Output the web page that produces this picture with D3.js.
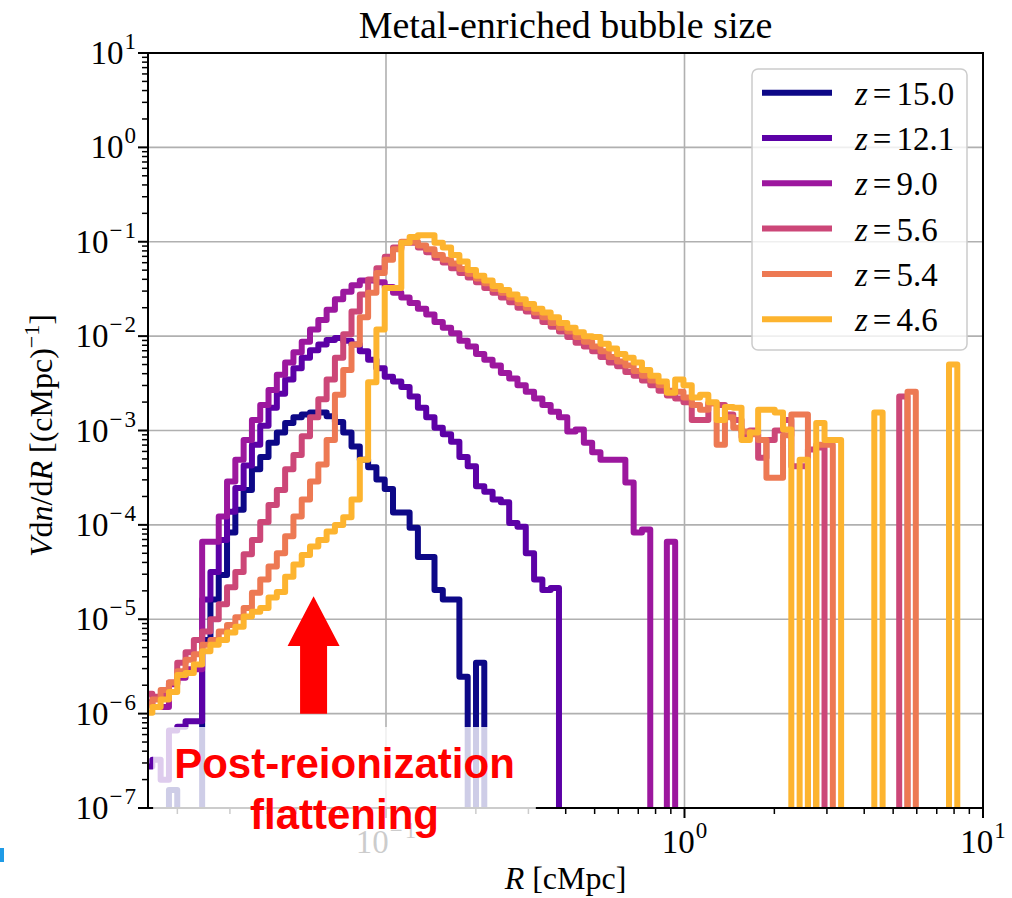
<!DOCTYPE html>
<html>
<head>
<meta charset="utf-8">
<title>Metal-enriched bubble size</title>
<script src="https://d3js.org/d3.v7.min.js"></script>
<style>
  body { margin: 0; background: #fff; }
</style>
</head>
<body>
<div id="chart"></div>
<script>
// histogram bins: log-spaced edges in R [cMpc]
const binStart = 0.01547;     // first bin edge
const binLogWidth = 0.0278;   // bin width (dex)
const binCount = 98;
const xMin = 0.015948, xMax = 10;
const yMin = 1e-7, yMax = 10;

const redshifts = ["15.0", "12.1", "9.0", "5.6", "5.4", "4.6"];
const colors = ["#0d0887", "#5c01a6", "#9c179e", "#cc4778", "#ed7953", "#fdb42f"];

// log10 of V dn/dR for each bin (null = empty bin, missing trailing bins are empty)
const logZ150 = [null,null,null,-6.81,null,null,null,-5.22,-4.79,-4.53,
  -4.08,-3.84,-3.63,-3.41,-3.28,-3.13,-3.02,-2.92,-2.86,-2.83,
  -2.81,-2.81,-2.85,-2.91,-3.02,-3.17,-3.31,-3.39,-3.52,-3.62,
  -3.87,-3.87,-4.03,-4.34,-4.34,-4.69,-4.79,-4.79,-5.61,null,
  -5.46];
const logZ121 = [-6.56,-6.49,-6.70,-6.18,-6.14,-6.08,-6.08,-4.79,-4.50,-4.16,
  -3.86,-3.61,-3.37,-3.15,-2.95,-2.76,-2.61,-2.46,-2.34,-2.23,
  -2.15,-2.09,-2.04,-2.02,-2.05,-2.09,-2.16,-2.25,-2.34,-2.43,
  -2.48,-2.54,-2.64,-2.76,-2.86,-2.97,-3.04,-3.12,-3.28,-3.38,
  -3.59,-3.65,-3.73,-3.76,-3.98,-4.02,-4.30,-4.58,-4.69,-4.67];
const logZ90 = [-5.88,-5.93,-5.93,-5.69,-5.62,-5.53,-5.53,-4.18,-4.18,-3.91,
  -3.54,-3.31,-3.10,-2.89,-2.73,-2.57,-2.41,-2.28,-2.17,-2.06,
  -1.93,-1.83,-1.72,-1.61,-1.53,-1.46,-1.41,-1.41,-1.43,-1.48,
  -1.54,-1.59,-1.65,-1.71,-1.77,-1.85,-1.91,-1.97,-2.05,-2.11,
  -2.19,-2.25,-2.31,-2.39,-2.45,-2.52,-2.59,-2.66,-2.73,-2.80,
  -2.86,-3.01,-2.99,-3.13,-3.23,-3.31,-3.31,-3.31,-3.55,-4.08,
  -4.05,null,null,-4.18];
const logZ56 = [-5.79,-5.82,-5.80,-5.67,-5.46,-5.35,-5.22,-5.13,-5.00,-4.84,
  -4.66,-4.50,-4.31,-4.16,-3.97,-3.79,-3.63,-3.41,-3.26,-3.06,
  -2.86,-2.67,-2.46,-2.23,-1.98,-1.74,-1.56,-1.40,-1.28,-1.16,
  -1.06,-1.01,-1.01,-1.06,-1.11,-1.17,-1.22,-1.28,-1.33,-1.38,
  -1.43,-1.49,-1.54,-1.59,-1.64,-1.70,-1.74,-1.79,-1.85,-1.90,
  -1.95,-2.01,-2.07,-2.11,-2.16,-2.22,-2.28,-2.32,-2.38,-2.42,
  -2.47,-2.52,-2.58,-2.63,-2.66,-2.70,-2.89,-2.89,-2.71,-2.73,
  -2.83,-2.89,-3.07,-3.00,-3.29,-3.10,-3.00,-2.89,-3.38,-3.38,
  -3.20,-3.18,null,null,null,null,null,null,null,null,
  null,-2.64];
const logZ54 = [-5.90,-5.85,-5.75,-5.67,-5.55,-5.43,-5.37,-5.27,-5.22,-5.13,
  -5.06,-4.98,-4.88,-4.72,-4.58,-4.44,-4.30,-4.12,-3.91,-3.73,
  -3.54,-3.36,-3.10,-2.62,-2.36,-2.09,-1.80,-1.54,-1.33,-1.19,
  -1.08,-1.00,-1.00,-1.04,-1.08,-1.14,-1.19,-1.23,-1.29,-1.34,
  -1.39,-1.44,-1.50,-1.54,-1.59,-1.65,-1.70,-1.75,-1.80,-1.86,
  -1.91,-1.95,-2.01,-2.06,-2.11,-2.16,-2.22,-2.27,-2.31,-2.37,
  -2.42,-2.47,-2.52,-2.58,-2.59,-2.65,-2.73,-2.78,-2.71,-3.15,
  -2.86,-2.97,-3.01,-3.04,-3.10,-3.50,-3.50,-3.05,-2.83,-2.83,
  null,-3.15,-3.15,null,null,null,null,null,null,null,
  null,null,-2.59];
const logZ46 = [-5.99,-5.93,-5.85,-5.77,-5.59,-5.57,-5.48,-5.34,-5.27,-5.22,
  -5.14,-5.08,-4.97,-4.92,-4.88,-4.77,-4.71,-4.55,-4.42,-4.32,
  -4.23,-4.16,-4.07,-4.00,-3.92,-3.73,-3.31,-2.49,-1.93,-1.49,
  -1.49,-1.01,-0.95,-0.93,-0.93,-1.01,-1.06,-1.14,-1.21,-1.30,
  -1.36,-1.41,-1.47,-1.51,-1.56,-1.61,-1.66,-1.71,-1.75,-1.80,
  -1.86,-1.91,-1.96,-2.00,-2.01,-2.08,-2.13,-2.19,-2.23,-2.28,
  -2.36,-2.42,-2.48,-2.60,-2.46,-2.52,-2.65,-2.62,-2.70,-2.89,
  -2.75,-2.76,-3.10,-3.02,-2.78,-2.78,-2.81,-2.99,null,-3.31,
  null,-2.92,-3.10,-3.10,null,null,null,null,-2.81,null,
  null,null,null,null,null,null,null,-2.30];

const seriesLogs = [logZ150, logZ121, logZ90, logZ56, logZ54, logZ46];

const yTickExps = [1, 0, -1, -2, -3, -4, -5, -6, -7];
const xTickExps = [-1, 0, 1];

// annotation (data coordinates)
const arrowR = 0.0572, arrowFrom = 1e-6, arrowTo = 1.75e-5, arrowHeadBase = 5.2e-6;
const noteR = 0.0726, noteLines = ["Post-reionization", "flattening"];

let width = 1012, height = 898;
let pLeft = 148, pRight = 983, pTop = 53, pBottom = 808;
let serif = "'Liberation Serif', 'Times New Roman', Times, serif";

let svg = d3.select("#chart").append("svg")
    .attr("width", width)
    .attr("height", height)
    .style("font-family", serif);

let x = d3.scaleLog().domain([xMin, xMax]).range([pLeft, pRight]);
let y = d3.scaleLog().domain([yMin, yMax]).range([pBottom, pTop]);

// grid
let grid = svg.append("g").attr("stroke", "#b0b0b0").attr("stroke-width", 1.6);
yTickExps.forEach(e => {
    grid.append("line").attr("x1", pLeft).attr("x2", pRight)
        .attr("y1", y(Math.pow(10, e))).attr("y2", y(Math.pow(10, e)));
});
xTickExps.forEach(e => {
    grid.append("line").attr("y1", pTop).attr("y2", pBottom)
        .attr("x1", x(Math.pow(10, e))).attr("x2", x(Math.pow(10, e)));
});

// histogram step lines
svg.append("clipPath").attr("id", "plotclip")
    .append("rect").attr("x", pLeft).attr("y", pTop)
    .attr("width", pRight - pLeft).attr("height", pBottom - pTop);

function edge(i) {
    return x(binStart * Math.pow(10, i * binLogWidth));
}

function stepPoints(logs) {
    let low = pBottom + 20;
    let pts = [[edge(0), low]];
    for (let i = 0; i < binCount; i++) {
        let v = i < logs.length ? logs[i] : null;
        let yy = v === null ? low : y(Math.pow(10, v));
        pts.push([edge(i), yy]);
        pts.push([edge(i + 1), yy]);
    }
    pts.push([edge(binCount), low]);
    return pts;
}

let lines = svg.append("g").attr("clip-path", "url(#plotclip)");
seriesLogs.forEach((logs, k) => {
    lines.append("path")
        .attr("d", d3.line()(stepPoints(logs)))
        .attr("fill", "none")
        .attr("stroke", colors[k])
        .attr("stroke-width", 6)
        .attr("stroke-linejoin", "round");
});

// arrow
let ax = x(arrowR);
let shaftHalf = 13.5, headHalf = 26;
svg.append("polygon")
    .attr("points", [
        [ax - shaftHalf, y(arrowFrom)], [ax - shaftHalf, y(arrowHeadBase)],
        [ax - headHalf, y(arrowHeadBase)], [ax, y(arrowTo)],
        [ax + headHalf, y(arrowHeadBase)], [ax + shaftHalf, y(arrowHeadBase)],
        [ax + shaftHalf, y(arrowFrom)]
    ].map(p => p.join(",")).join(" "))
    .attr("fill", "#ff0000");

// axes frame and ticks
let axes = svg.append("g");
axes.append("rect").attr("x", pLeft).attr("y", pTop)
    .attr("width", pRight - pLeft).attr("height", pBottom - pTop)
    .attr("fill", "none").attr("stroke", "#000").attr("stroke-width", 2);

function minorTicks(lo, hi) {
    let out = [];
    for (let e = Math.floor(Math.log10(lo)); e < Math.ceil(Math.log10(hi)); e++) {
        for (let m = 2; m <= 9; m++) {
            let v = m * Math.pow(10, e);
            if (v > lo && v < hi) out.push(v);
        }
    }
    return out;
}

// "10^e" label in the mathtext style
function powLabel(t, e) {
    t.append("tspan").text("10");
    if (e < 0) {
        t.append("tspan").attr("dx", 1).attr("dy", -15).attr("font-size", 23).text("\u2212");
        t.append("tspan").attr("dx", 2).attr("font-size", 23).text(String(-e));
    } else {
        t.append("tspan").attr("dx", 1).attr("dy", -15).attr("font-size", 23).text(String(e));
    }
}

yTickExps.forEach(e => {
    let yy = y(Math.pow(10, e));
    axes.append("line").attr("x1", pLeft - 10).attr("x2", pLeft)
        .attr("y1", yy).attr("y2", yy).attr("stroke", "#000").attr("stroke-width", 2);
    let t = axes.append("text").attr("x", pLeft - 12).attr("y", yy + 11)
        .attr("text-anchor", "end").attr("font-size", 33);
    powLabel(t, e);
});
minorTicks(yMin, yMax).forEach(v => {
    axes.append("line").attr("x1", pLeft - 6).attr("x2", pLeft)
        .attr("y1", y(v)).attr("y2", y(v)).attr("stroke", "#000").attr("stroke-width", 1.5);
});

xTickExps.forEach(e => {
    let xx = x(Math.pow(10, e));
    axes.append("line").attr("x1", xx).attr("x2", xx)
        .attr("y1", pBottom).attr("y2", pBottom + 10).attr("stroke", "#000").attr("stroke-width", 2);
    let t = axes.append("text").attr("x", xx).attr("y", pBottom + 45)
        .attr("text-anchor", "middle").attr("font-size", 33);
    powLabel(t, e);
});
minorTicks(xMin, xMax).forEach(v => {
    axes.append("line").attr("x1", x(v)).attr("x2", x(v))
        .attr("y1", pBottom).attr("y2", pBottom + 6).attr("stroke", "#000").attr("stroke-width", 1.5);
});

// title and axis labels
svg.append("text").attr("x", (pLeft + pRight) / 2).attr("y", 38)
    .attr("text-anchor", "middle").attr("font-size", 38)
    .text("Metal-enriched bubble size");

let xl = svg.append("text").attr("x", (pLeft + pRight) / 2).attr("y", 889)
    .attr("text-anchor", "middle").attr("font-size", 32);
xl.append("tspan").attr("font-style", "italic").text("R");
xl.append("tspan").text(" [cMpc]");

let yl = svg.append("text")
    .attr("transform", `translate(52, ${(pTop + pBottom) / 2 + 5}) rotate(-90)`)
    .attr("text-anchor", "middle").attr("font-size", 32);
yl.append("tspan").attr("font-style", "italic").text("V");
yl.append("tspan").text("d");
yl.append("tspan").attr("font-style", "italic").text("n");
yl.append("tspan").text("/d");
yl.append("tspan").attr("font-style", "italic").text("R");
yl.append("tspan").text(" [(cMpc)");
yl.append("tspan").attr("dy", -13).attr("font-size", 22).text("\u22121");
yl.append("tspan").attr("dy", 13).text("]");

// legend
let lg = svg.append("g");
lg.append("rect").attr("x", 752).attr("y", 69).attr("width", 215).attr("height", 281)
    .attr("rx", 6).attr("fill", "#fff").attr("fill-opacity", 0.8)
    .attr("stroke", "#cccccc").attr("stroke-width", 1.5);
redshifts.forEach((z, k) => {
    let ly = 92.7 + k * 45.3;
    lg.append("line").attr("x1", 762).attr("x2", 832).attr("y1", ly).attr("y2", ly)
        .attr("stroke", colors[k]).attr("stroke-width", 6);
    let t = lg.append("text").attr("x", 855).attr("y", ly + 12).attr("font-size", 33);
    t.append("tspan").attr("font-style", "italic").text("z");
    t.append("tspan").attr("dx", 5).text("=");
    t.append("tspan").attr("dx", 5).text(z);
});

// annotation text with translucent box
let note = svg.append("g");
let boxRect = note.append("rect").attr("fill", "#fff").attr("fill-opacity", 0.8);
let noteText = note.append("text")
    .attr("text-anchor", "middle")
    .style("font-family", "'Liberation Sans', Arial, sans-serif")
    .style("font-weight", "bold")
    .style("fill", "#ff0000")
    .attr("font-size", 42);
noteLines.forEach((s, i) => {
    noteText.append("tspan").attr("x", x(noteR)).attr("y", 778 + i * 51).text(s);
});
let bb = noteText.node().getBBox();
boxRect.attr("x", bb.x - 21).attr("y", bb.y - 13)
    .attr("width", bb.width + 42).attr("height", bb.height + 37);

// small marker at the bottom-left corner
svg.append("rect").attr("x", 0).attr("y", 848).attr("width", 4).attr("height", 14)
    .attr("fill", "#1f9be6");
</script>
</body>
</html>
